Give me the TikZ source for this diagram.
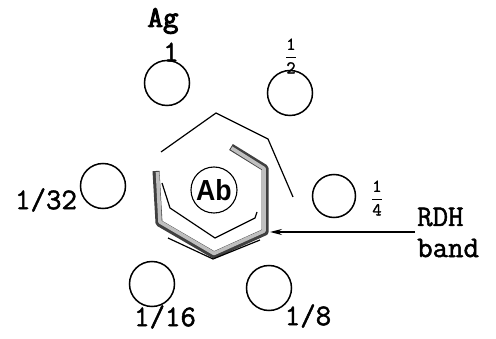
\documentclass[tikz,border=0pt]{standalone}
\usepackage{amsmath}
\usepackage{fontspec}
\newfontfamily\tw{Latin Modern Mono}[FakeBold=1.6]
\newfontfamily\twb{Latin Modern Mono}[FakeBold=3.5]
\newfontfamily\sfb{Liberation Sans}
\usetikzlibrary{arrows.meta}
\newcommand{\myfrac}[2]{\ensuremath{\genfrac{}{}{0.9pt}{0}{\hbox{#1}}{\hbox{#2}}}}
\tikzset{
  well/.style={circle,draw,line width=1.5pt,minimum size=45pt,inner sep=0pt},
  lbl/.style={font=\tw\fontsize{30}{32}\selectfont,inner sep=0pt},
  frlbl/.style={font=\tw\fontsize{18}{18}\selectfont,inner sep=0pt},
  hexline/.style={line width=1.2pt,line join=miter},
}
\begin{document}
\begin{tikzpicture}[x=1pt,y=-1pt]
\useasboundingbox (0,0) rectangle (496,339);
% wells
\node[well] (w1) at (167,83) {};
\node[well] (w2) at (290,93) {};
\node[well,minimum size=43pt] (w4) at (334,196) {};
\node[well] (w8) at (269,288) {};
\node[well] (w16) at (152,284) {};
\node[well] (w32) at (103,186) {};
\node[circle,draw,line width=1.1pt,minimum size=46pt,inner sep=0pt,font=\sfb\bfseries\fontsize{29}{29}\selectfont] (ab) at (214,190) {\addfontfeature{FakeStretch=0.92}Ab};
% labels
\node[lbl,font=\twb\fontsize{30}{32}\selectfont] (ag) at (163,21) {Ag};
\node[lbl] (l1) at (171,52) {1};
\node[frlbl] (l2) at (291,56) {\myfrac{1}{2}};
\node[frlbl] (l4) at (377,198) {\myfrac{1}{4}};
\node[lbl] (l32) at (46,200) {1/32};
\node[lbl] (l16) at (165,317) {1/16};
\node[lbl] (l8) at (308,316) {1/8};
\node[lbl,anchor=west] (rdh) at (417,217) {RDH};
\node[lbl,anchor=west] (band) at (417,248) {band};
% hexagon outer partial
\draw[hexline] (161,152) -- (216,113) -- (268,139) -- (293,197);
% gray band
\draw[line width=7pt,black!75,line join=round] (231,147) -- (265,168) -- (265,232) -- (214,255) -- (159,223) -- (156,171);
\draw[line width=3.6pt,gray!50,line join=round] (231.5,148) -- (264,168.5) -- (264,231) -- (214,253.5) -- (160,222) -- (157.5,172);
% inner thin line
\draw[hexline] (162,183) -- (170,208) -- (215,238) -- (255,218) -- (257,212);
% outer bottom line
\draw[hexline] (168,238) -- (213,259) -- (260,240);
% arrow
\coordinate (tip) at (270,232);
\draw[line width=1.3pt,-{Stealth[length=12pt,width=6pt]}] (415,232) -- (tip);
\end{tikzpicture}
\end{document}
